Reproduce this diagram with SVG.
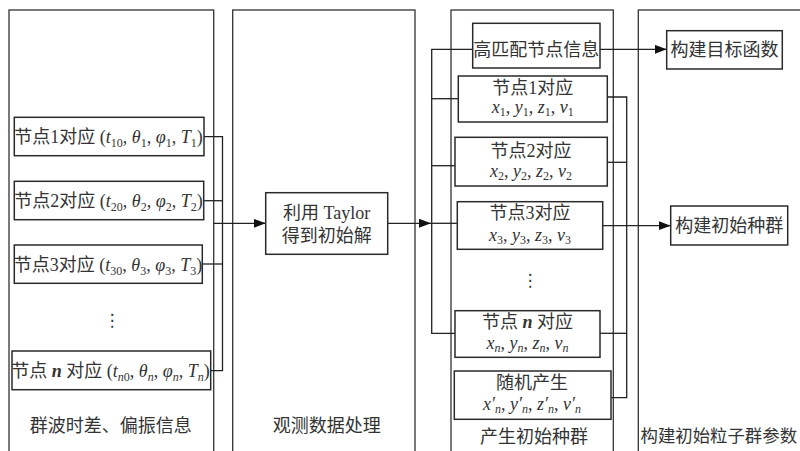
<svg xmlns="http://www.w3.org/2000/svg" width="800" height="451" viewBox="0 0 800 451">
<style>
.panel{fill:none;stroke:#333;stroke-width:1.3}
.box{fill:#fff;stroke:#2a2a2a;stroke-width:1.5}
.ln{fill:none;stroke:#222;stroke-width:1.3}
text{font-family:"Liberation Serif","Noto Sans CJK SC",serif;font-size:18px;fill:#333}
.cjk{font-family:"Noto Sans CJK SC","Liberation Serif",sans-serif}
.c{text-anchor:middle}
.i{font-style:italic}
.s{font-size:12px}
.dots{font-family:"DejaVu Sans",sans-serif;font-size:17px}
</style>
<defs>
<marker id="arr" markerUnits="userSpaceOnUse" markerWidth="13" markerHeight="10" refX="12" refY="4.5" orient="auto">
<path d="M0,0 L12,4.5 L0,9 z" fill="#111"/>
</marker>
</defs>
<rect width="800" height="451" fill="#fff"/>

<g id="panel1">
<rect class="panel" x="9" y="10" width="204.7" height="460"/>
<text class="cjk c" x="110.8" y="431.5">群波时差、偏振信息</text>
<text class="dots c" x="112" y="326">⋮</text>
</g>
<g id="panel2">
<rect class="panel" x="232.7" y="10" width="182.3" height="460"/>
<text class="cjk c" x="326.7" y="431.5">观测数据处理</text>
</g>
<g id="panel3">
<rect class="panel" x="451" y="10" width="162.3" height="460"/>
<text class="cjk c" x="534" y="443">产生初始种群</text>
<text class="dots c" x="530" y="286">⋮</text>
</g>
<g id="panel4">
<rect class="panel" x="638.3" y="10" width="180" height="460"/>
<text class="cjk" x="640.5" y="442" style="font-size:17.4px">构建初始粒子群参数</text>
</g>

<g id="connectors">
<polyline class="ln" points="204,136.7 222.5,136.7 222.5,370.7 210.7,370.7"/>
<line class="ln" x1="203.7" y1="200.7" x2="222.5" y2="200.7"/>
<line class="ln" x1="202.3" y1="264" x2="222.5" y2="264"/>
<line class="ln" x1="214" y1="223.3" x2="265.7" y2="223.3" marker-end="url(#arr)"/>
<line class="ln" x1="387.7" y1="223.3" x2="431" y2="223.3" marker-end="url(#arr)"/>
<line class="ln" x1="431" y1="223.3" x2="457.3" y2="223.3"/>
<polyline class="ln" points="472.7,49.3 431.7,49.3 431.7,333.3 455,333.3"/>
<line class="ln" x1="431.7" y1="98.7" x2="458.3" y2="98.7"/>
<line class="ln" x1="431.7" y1="165.7" x2="455" y2="165.7"/>
<polyline class="ln" points="607.3,97 626.7,97 626.7,397.7 611,397.7"/>
<line class="ln" x1="607.3" y1="162.3" x2="626.7" y2="162.3"/>
<line class="ln" x1="600" y1="333.3" x2="626.7" y2="333.3"/>
<line class="ln" x1="600" y1="49.3" x2="666.7" y2="49.3" marker-end="url(#arr)"/>
<line class="ln" x1="603" y1="225.7" x2="670.7" y2="225.7" marker-end="url(#arr)"/>
</g>

<g id="n1">
<rect class="box" x="14.3" y="117.3" width="189.7" height="38.4"/>
<text class="c" x="108.5" y="143">节点1对应 (<tspan class="i">t</tspan><tspan class="s" dy="4">10</tspan><tspan dy="-4">, </tspan><tspan class="i">θ</tspan><tspan class="s" dy="4">1</tspan><tspan dy="-4">, </tspan><tspan class="i">φ</tspan><tspan class="s" dy="4">1</tspan><tspan dy="-4">, </tspan><tspan class="i">T</tspan><tspan class="s" dy="4">1</tspan><tspan dy="-4">)</tspan></text>
</g>
<g id="n2">
<rect class="box" x="14.3" y="181.3" width="189.4" height="38.4"/>
<text class="c" x="108.5" y="207">节点2对应 (<tspan class="i">t</tspan><tspan class="s" dy="4">20</tspan><tspan dy="-4">, </tspan><tspan class="i">θ</tspan><tspan class="s" dy="4">2</tspan><tspan dy="-4">, </tspan><tspan class="i">φ</tspan><tspan class="s" dy="4">2</tspan><tspan dy="-4">, </tspan><tspan class="i">T</tspan><tspan class="s" dy="4">2</tspan><tspan dy="-4">)</tspan></text>
</g>
<g id="n3">
<rect class="box" x="14.3" y="245" width="188" height="38.3"/>
<text class="c" x="108" y="270.5">节点3对应 (<tspan class="i">t</tspan><tspan class="s" dy="4">30</tspan><tspan dy="-4">, </tspan><tspan class="i">θ</tspan><tspan class="s" dy="4">3</tspan><tspan dy="-4">, </tspan><tspan class="i">φ</tspan><tspan class="s" dy="4">3</tspan><tspan dy="-4">, </tspan><tspan class="i">T</tspan><tspan class="s" dy="4">3</tspan><tspan dy="-4">)</tspan></text>
</g>
<g id="nn">
<rect class="box" x="12" y="351" width="198.7" height="38.7"/>
<text class="c" x="110.5" y="377">节点 <tspan class="i" font-weight="bold">n</tspan> 对应 (<tspan class="i">t</tspan><tspan class="s i" dy="4">n</tspan><tspan class="s">0</tspan><tspan dy="-4">, </tspan><tspan class="i">θ</tspan><tspan class="s i" dy="4">n</tspan><tspan dy="-4">, </tspan><tspan class="i">φ</tspan><tspan class="s i" dy="4">n</tspan><tspan dy="-4">, </tspan><tspan class="i">T</tspan><tspan class="s i" dy="4">n</tspan><tspan dy="-4">)</tspan></text>
</g>

<g id="taylor">
<rect class="box" x="265.7" y="192.7" width="122" height="61.6"/>
<text class="c" x="326.7" y="218.5">利用 Taylor</text>
<text class="c" x="326.7" y="242">得到初始解</text>
</g>

<g id="high">
<rect class="box" x="472.7" y="23.3" width="127.3" height="44.7"/>
<text class="cjk c" x="536.3" y="55.8">高匹配节点信息</text>
</g>
<g id="p1">
<rect class="box" x="458.3" y="76" width="149" height="46"/>
<text class="c" x="532.8" y="93.5">节点1对应</text>
<text class="c" x="532.8" y="113.2"><tspan class="i">x</tspan><tspan class="s" dy="3">1</tspan><tspan dy="-3">, </tspan><tspan class="i">y</tspan><tspan class="s" dy="3">1</tspan><tspan dy="-3">, </tspan><tspan class="i">z</tspan><tspan class="s" dy="3">1</tspan><tspan dy="-3">, </tspan><tspan class="i">v</tspan><tspan class="s" dy="3">1</tspan></text>
</g>
<g id="p2">
<rect class="box" x="455" y="137.3" width="152.3" height="48.7"/>
<text class="c" x="531" y="156.5">节点2对应</text>
<text class="c" x="531" y="177"><tspan class="i">x</tspan><tspan class="s" dy="3">2</tspan><tspan dy="-3">, </tspan><tspan class="i">y</tspan><tspan class="s" dy="3">2</tspan><tspan dy="-3">, </tspan><tspan class="i">z</tspan><tspan class="s" dy="3">2</tspan><tspan dy="-3">, </tspan><tspan class="i">v</tspan><tspan class="s" dy="3">2</tspan></text>
</g>
<g id="p3">
<rect class="box" x="457.3" y="201.7" width="145.4" height="47.6"/>
<text class="c" x="530" y="218.5">节点3对应</text>
<text class="c" x="530" y="240.5"><tspan class="i">x</tspan><tspan class="s" dy="3">3</tspan><tspan dy="-3">, </tspan><tspan class="i">y</tspan><tspan class="s" dy="3">3</tspan><tspan dy="-3">, </tspan><tspan class="i">z</tspan><tspan class="s" dy="3">3</tspan><tspan dy="-3">, </tspan><tspan class="i">v</tspan><tspan class="s" dy="3">3</tspan></text>
</g>
<g id="pn">
<rect class="box" x="455" y="310.7" width="145" height="46.6"/>
<text class="c" x="527.5" y="328.3">节点 <tspan class="i" font-weight="bold">n</tspan> 对应</text>
<text class="c" x="527.5" y="348.5"><tspan class="i">x</tspan><tspan class="s i" dy="3">n</tspan><tspan dy="-3">, </tspan><tspan class="i">y</tspan><tspan class="s i" dy="3">n</tspan><tspan dy="-3">, </tspan><tspan class="i">z</tspan><tspan class="s i" dy="3">n</tspan><tspan dy="-3">, </tspan><tspan class="i">v</tspan><tspan class="s i" dy="3">n</tspan></text>
</g>
<g id="rand">
<rect class="box" x="454.3" y="371" width="156.7" height="48.3"/>
<text class="cjk c" x="532" y="389">随机产生</text>
<text class="c" x="532" y="410"><tspan class="i">x′</tspan><tspan class="s i" dy="3">n</tspan><tspan dy="-3">, </tspan><tspan class="i">y′</tspan><tspan class="s i" dy="3">n</tspan><tspan dy="-3">, </tspan><tspan class="i">z′</tspan><tspan class="s i" dy="3">n</tspan><tspan dy="-3">, </tspan><tspan class="i">v′</tspan><tspan class="s i" dy="3">n</tspan></text>
</g>

<g id="goal">
<rect class="box" x="666.7" y="30.7" width="115.6" height="38.3"/>
<text class="cjk c" x="724.5" y="56.3">构建目标函数</text>
</g>
<g id="initpop">
<rect class="box" x="670.7" y="206" width="117" height="39"/>
<text class="cjk c" x="729.2" y="232">构建初始种群</text>
</g>
</svg>
